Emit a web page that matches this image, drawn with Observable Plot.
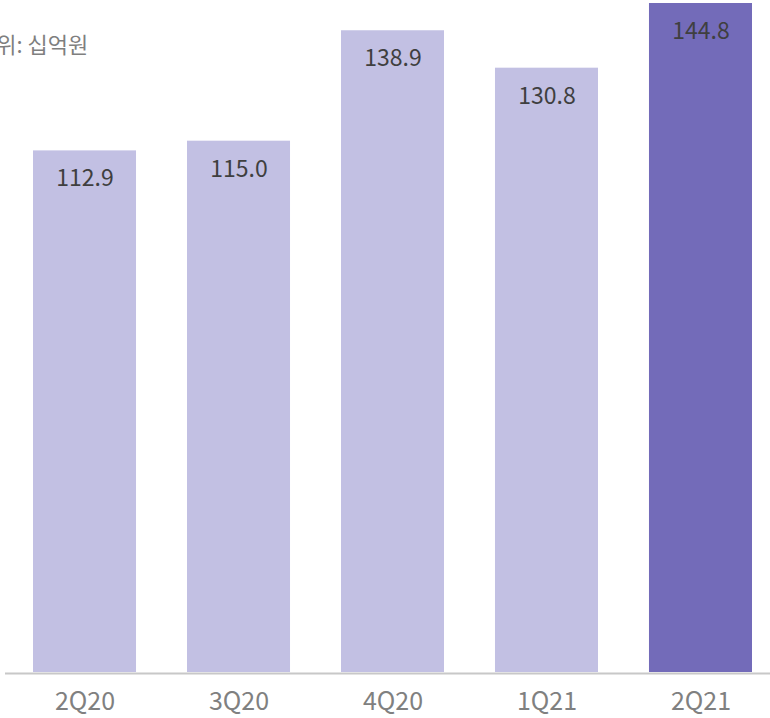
<!DOCTYPE html>
<html><head><meta charset="utf-8">
<script src="https://cdn.jsdelivr.net/npm/d3@7"></script>
<script src="https://cdn.jsdelivr.net/npm/@observablehq/plot@0.6"></script>
<style>
body{margin:0;background:#fff;font-family:"Noto Sans CJK KR","Noto Sans",sans-serif;}
#wrap{position:relative;width:770px;height:718px;overflow:hidden;}
#unit{position:absolute;left:-24px;top:28px;font-size:22px;line-height:30px;color:#7f7f7f;white-space:nowrap;}
</style></head><body>
<div id="wrap"><div id="unit">단위: 십억원</div><div id="chart"></div></div>
<script>
const quarters = ["2Q20","3Q20","4Q20","1Q21","2Q21"];
const values = [112.9, 115.0, 138.9, 130.8, 144.8];
const highlight = [false,false,false,false,true];
const data = quarters.map((q,i)=>({q, v: values[i], h: highlight[i]}));
const chart = Plot.plot({
  width: 770, height: 718,
  marginLeft: 30, marginRight: 15, marginTop: 0, marginBottom: 46,
  style: {fontFamily: '"Noto Sans CJK KR","Noto Sans",sans-serif', background: "transparent"},
  x: {domain: quarters, paddingInner: 0.331, paddingOuter: 0.0195, round: false, label: null},
  y: {domain: [0, 145.45], axis: null},
  marks: [
    Plot.barY(data, {x: "q", y: "v", fill: d => d.h ? "#736bb9" : "#c2c0e3"}),
    Plot.text(data, {x: "q", y: "v", text: d => d.v.toFixed(1), dy: 28, fontSize: 23, fill: "#3f3f3f"}),
    Plot.ruleY([0], {stroke: "#c8c8c8", strokeWidth: 2, dy: 1, insetLeft: -25, insetRight: -15}),
    Plot.axisX({tickSize: 0, tickPadding: 20, fontSize: 25, color: "#808080", label: null})
  ]
});
document.getElementById("chart").append(chart);
</script></body></html>
